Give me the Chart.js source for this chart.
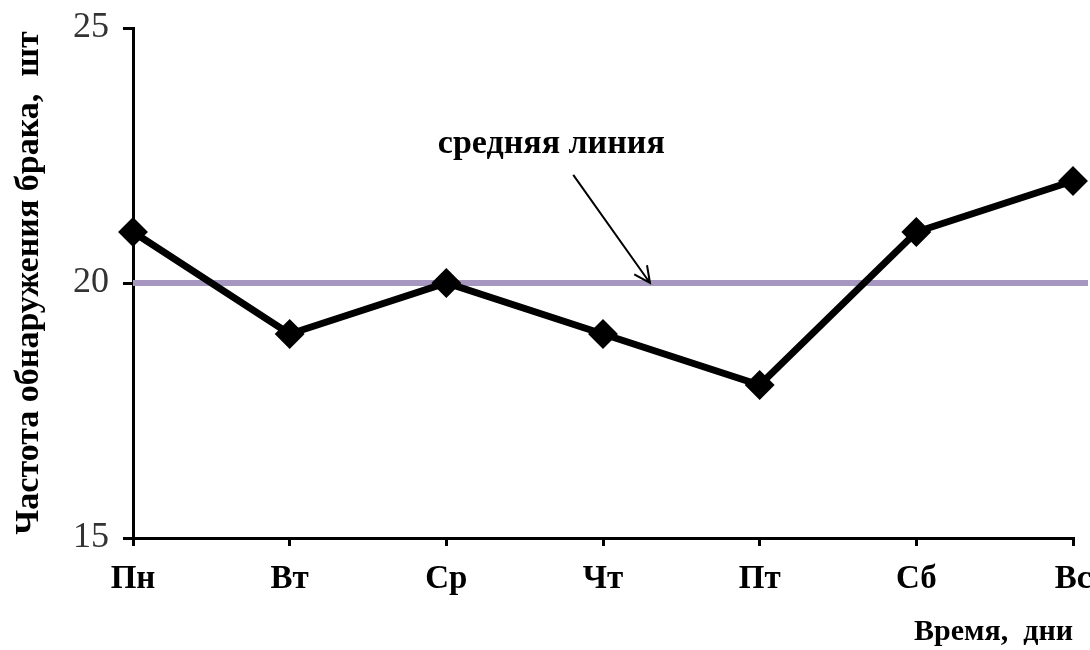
<!DOCTYPE html>
<html>
<head>
<meta charset="utf-8">
<script src="https://cdn.jsdelivr.net/npm/chart.js@4"></script>
<style>
  html, body { margin: 0; padding: 0; background: #fff; }
  #wrap { width: 1090px; height: 650px; position: relative; }
</style>
</head>
<body>
<div id="wrap"><canvas id="defectChart"></canvas></div>
<script>
// дни недели и частота обнаружения брака
const days = ['Пн', 'Вт', 'Ср', 'Чт', 'Пт', 'Сб', 'Вс'];
const defects = [21, 19, 20, 19, 18, 21, 22];
const meanValue = 20;
const meanLine = days.map(() => meanValue);
const yTicks = [15, 20, 25];

const SERIF = '"Liberation Serif", "Times New Roman", serif';
const MEAN_COLOR = '#a597bf';

// средняя линия доходит до правого края полотна
const meanTail = {
  id: 'meanTail',
  beforeDatasetsDraw(chart) {
    const { ctx, chartArea, scales: { y } } = chart;
    const py = y.getPixelForValue(meanValue);
    ctx.save();
    ctx.strokeStyle = MEAN_COLOR;
    ctx.lineWidth = 6;
    ctx.beginPath();
    ctx.moveTo(chartArea.right, py);
    ctx.lineTo(chart.width - 2, py);
    ctx.stroke();
    ctx.restore();
  }
};

// подпись "средняя линия" со стрелкой, привязанная к осям
const arrowLabel = {
  id: 'arrowLabel',
  afterDatasetsDraw(chart) {
    const { ctx, scales: { x, y } } = chart;
    const step = x.getPixelForValue(1) - x.getPixelForValue(0);
    const tx = x.getPixelForValue(2) + step * 0.67;
    const ty = y.getPixelForValue(22.72);
    const x0 = x.getPixelForValue(2) + step * 0.81;
    const y0 = y.getPixelForValue(22.12);
    const x1 = x.getPixelForValue(3) + step * 0.3;
    const y1 = y.getPixelForValue(meanValue);
    ctx.save();
    ctx.font = 'bold 34px ' + SERIF;
    ctx.fillStyle = '#000';
    ctx.textAlign = 'center';
    ctx.textBaseline = 'middle';
    ctx.fillText('средняя линия', tx, ty);
    ctx.strokeStyle = '#000';
    ctx.lineWidth = 2;
    ctx.beginPath();
    ctx.moveTo(x0, y0);
    ctx.lineTo(x1, y1);
    const ang = Math.atan2(y1 - y0, x1 - x0);
    const head = 18;
    ctx.moveTo(x1 - head * Math.cos(ang - 0.45), y1 - head * Math.sin(ang - 0.45));
    ctx.lineTo(x1, y1);
    ctx.lineTo(x1 - head * Math.cos(ang + 0.45), y1 - head * Math.sin(ang + 0.45));
    ctx.stroke();
    ctx.restore();
  }
};

new Chart(document.getElementById('defectChart'), {
  type: 'line',
  data: {
    labels: days,
    datasets: [
      {
        label: 'средняя линия',
        data: meanLine,
        borderColor: MEAN_COLOR,
        borderWidth: 6,
        pointRadius: 0,
        tension: 0,
        order: 2
      },
      {
        label: 'брак',
        data: defects,
        borderColor: '#000',
        backgroundColor: '#000',
        borderWidth: 7,
        pointStyle: 'rectRot',
        pointRadius: 10,
        pointHoverRadius: 10,
        tension: 0,
        order: 1
      }
    ]
  },
  options: {
    responsive: true,
    maintainAspectRatio: false,
    animation: false,
    layout: { padding: { top: 28, right: 8, left: 0, bottom: 0 } },
    plugins: {
      legend: { display: false },
      tooltip: { enabled: false }
    },
    scales: {
      x: {
        offset: false,
        border: { display: true, color: '#000', width: 3 },
        grid: { drawOnChartArea: false, drawTicks: true, tickLength: 8, color: '#000', lineWidth: 3 },
        ticks: {
          color: '#000',
          padding: 14,
          maxRotation: 0,
          font: { family: SERIF, size: 33, weight: 'bold' }
        },
        title: {
          display: true,
          text: 'Время,  дни',
          align: 'end',
          color: '#000',
          padding: { top: 4, bottom: 0 },
          font: { family: SERIF, size: 30, weight: 'bold' }
        },
        afterFit(scale) {
          scale.paddingLeft = 0;
          scale.paddingRight = 0;
          scale.height = 112;
        }
      },
      y: {
        min: 15,
        max: 25,
        afterBuildTicks(scale) {
          scale.ticks = yTicks.map(v => ({ value: v }));
        },
        border: { display: true, color: '#000', width: 3 },
        grid: { drawOnChartArea: false, drawTicks: true, tickLength: 10, color: '#000', lineWidth: 3 },
        ticks: {
          color: '#333',
          padding: 14,
          font: { family: SERIF, size: 36 }
        },
        title: {
          display: true,
          text: 'Частота обнаружения брака,  шт',
          color: '#000',
          padding: { top: 9, bottom: 3 },
          font: { family: SERIF, size: 34, weight: 'bold' }
        },
        afterFit(scale) {
          scale.width = 133;
          scale.paddingTop = 0;
          scale.paddingBottom = 0;
        }
      }
    }
  },
  plugins: [meanTail, arrowLabel]
});
</script>
</body>
</html>
